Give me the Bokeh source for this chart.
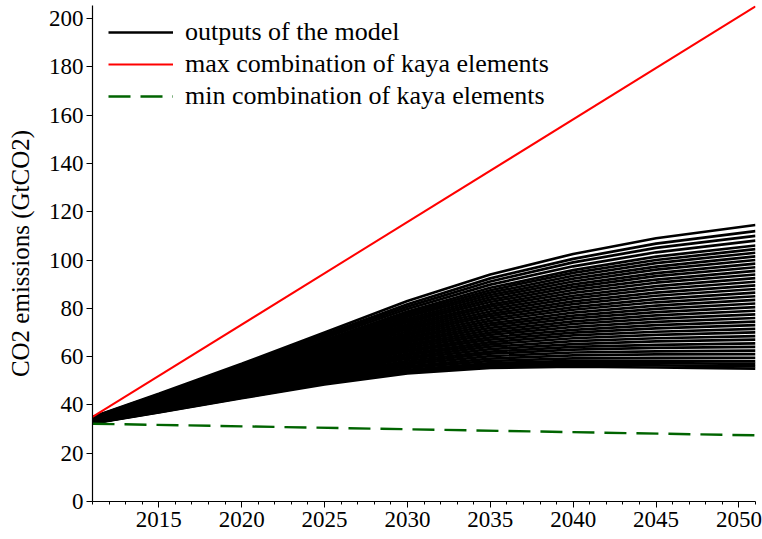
from bokeh.plotting import figure
from bokeh.models import ColumnDataSource, Legend, LegendItem, SingleIntervalTicker, Range1d
from bokeh.embed import file_html
from bokeh.resources import INLINE

# ---- data ----
years = [2011, 2015, 2020, 2025, 2030, 2035, 2040, 2045, 2051]

model_runs = [
    [32.3, 36.9, 42.8, 48.5, 53.0, 55.3, 55.8, 55.5, 55.0],
    [32.4, 37.0, 43.0, 48.9, 53.5, 56.0, 56.6, 56.4, 56.0],
    [32.4, 37.2, 43.3, 49.2, 54.0, 56.6, 57.4, 57.3, 57.0],
    [32.4, 37.3, 43.5, 49.6, 54.5, 57.3, 58.2, 58.2, 58.0],
    [32.5, 37.5, 43.9, 50.1, 55.3, 58.2, 59.3, 59.5, 59.5],
    [32.6, 37.7, 44.2, 50.7, 56.0, 59.2, 60.5, 60.9, 61.0],
    [32.6, 37.9, 44.6, 51.2, 56.8, 60.2, 61.7, 62.2, 62.5],
    [32.7, 38.1, 45.0, 51.8, 57.5, 61.2, 62.9, 63.6, 64.0],
    [32.8, 38.3, 45.3, 52.3, 58.3, 62.1, 64.0, 64.9, 65.5],
    [32.8, 38.5, 45.7, 52.8, 59.1, 63.1, 65.2, 66.3, 67.0],
    [32.9, 38.7, 46.0, 53.4, 59.8, 64.1, 66.4, 67.6, 68.5],
    [33.0, 38.8, 46.4, 53.9, 60.6, 65.1, 67.6, 69.0, 70.0],
    [33.1, 39.0, 46.7, 54.5, 61.3, 66.0, 68.8, 70.3, 71.5],
    [33.1, 39.2, 47.1, 55.0, 62.1, 67.0, 69.9, 71.7, 73.0],
    [33.2, 39.4, 47.5, 55.6, 62.8, 68.0, 71.1, 73.0, 74.5],
    [33.3, 39.6, 47.8, 56.1, 63.6, 69.0, 72.3, 74.4, 76.0],
    [33.3, 39.8, 48.2, 56.6, 64.4, 69.9, 73.5, 75.7, 77.5],
    [33.4, 40.0, 48.5, 57.2, 65.1, 70.9, 74.6, 77.1, 79.0],
    [33.5, 40.2, 48.9, 57.7, 65.9, 71.9, 75.8, 78.4, 80.5],
    [33.5, 40.4, 49.2, 58.3, 66.6, 72.9, 77.0, 79.8, 82.0],
    [33.6, 40.6, 49.6, 58.8, 67.4, 73.8, 78.2, 81.1, 83.5],
    [33.7, 40.8, 50.0, 59.3, 68.1, 74.8, 79.4, 82.5, 85.0],
    [33.7, 41.0, 50.3, 59.9, 68.9, 75.8, 80.5, 83.8, 86.5],
    [33.8, 41.2, 50.7, 60.4, 69.6, 76.8, 81.7, 85.2, 88.0],
    [33.9, 41.4, 51.0, 61.0, 70.4, 77.7, 82.9, 86.5, 89.5],
    [33.9, 41.6, 51.4, 61.5, 71.2, 78.7, 84.1, 87.9, 91.0],
    [34.0, 41.8, 51.8, 62.1, 71.9, 79.7, 85.2, 89.2, 92.5],
    [34.1, 42.0, 52.1, 62.6, 72.7, 80.7, 86.4, 90.6, 94.0],
    [34.1, 42.1, 52.5, 63.1, 73.4, 81.6, 87.6, 91.9, 95.5],
    [34.2, 42.3, 52.8, 63.7, 74.2, 82.6, 88.8, 93.3, 97.0],
    [34.3, 42.5, 53.2, 64.2, 74.9, 83.6, 89.9, 94.6, 98.5],
    [34.3, 42.7, 53.5, 64.8, 75.7, 84.6, 91.1, 96.0, 100.0],
    [34.4, 42.9, 53.9, 65.3, 76.5, 85.5, 92.3, 97.3, 101.5],
    [34.5, 43.1, 54.3, 65.8, 77.2, 86.5, 93.5, 98.7, 103.0],
    [34.6, 43.3, 54.6, 66.4, 78.0, 87.5, 94.7, 100.0, 104.5],
    [34.6, 43.5, 55.0, 66.9, 78.7, 88.5, 95.8, 101.4, 106.0],
    [34.7, 43.8, 55.5, 67.7, 79.7, 89.8, 97.4, 103.2, 108.0],
    [34.8, 44.0, 55.9, 68.4, 80.7, 91.1, 99.0, 105.0, 110.0],
    [34.9, 44.3, 56.4, 69.1, 81.7, 92.4, 100.5, 106.8, 112.0],
    [35.0, 44.6, 57.0, 70.0, 83.0, 94.0, 102.5, 109.0, 114.5],
]

kaya_years = [2011, 2051]
kaya_max = [35.0, 205.0]
kaya_min = [32.2, 27.4]

labels = ["outputs of the model",
          "max combination of kaya elements",
          "min combination of kaya elements"]
y_label = "CO2 emissions (GtCO2)"

FONT = "'Liberation Serif'"

p = figure(width=762, height=539, output_backend="svg", toolbar_location=None,
           x_range=Range1d(2011, 2051), y_range=Range1d(0, 205.4),
           min_border_left=92, min_border_right=7, min_border_top=5,
           min_border_bottom=38)
p.outline_line_color = None
p.xgrid.visible = False
p.ygrid.visible = False
p.background_fill_color = "white"

src = ColumnDataSource(dict(xs=[years] * len(model_runs), ys=model_runs))
r_model = p.multi_line("xs", "ys", source=src, line_color="black", line_width=2.7)
r_max = p.line(kaya_years, kaya_max, line_color="#ff0000", line_width=2)
r_min = p.line(kaya_years, kaya_min, line_color="#006400", line_width=2.4,
               line_dash="22 10")

p.xaxis.ticker = SingleIntervalTicker(interval=5, num_minor_ticks=5)
p.yaxis.ticker = SingleIntervalTicker(interval=20, num_minor_ticks=0)
for ax in (p.xaxis[0], p.yaxis[0]):
    ax.axis_line_color = "black"
    ax.axis_line_width = 1.2
    ax.major_tick_line_color = "black"
    ax.minor_tick_line_color = "black"
    ax.major_tick_in = 0
    ax.minor_tick_in = 0
    ax.major_tick_out = 6
    ax.minor_tick_out = 3
    ax.major_label_text_font = FONT
    ax.major_label_text_font_size = "23px"
    ax.major_label_text_color = "black"
p.xaxis.major_label_standoff = 4
p.yaxis.major_label_standoff = 3
p.yaxis.axis_label = y_label
p.yaxis.axis_label_text_font = FONT
p.yaxis.axis_label_text_font_size = "25px"
p.yaxis.axis_label_text_font_style = "normal"
p.yaxis.axis_label_text_color = "black"
p.yaxis.axis_label_standoff = 12

legend = Legend(items=[LegendItem(label=labels[0], renderers=[r_model]),
                       LegendItem(label=labels[1], renderers=[r_max]),
                       LegendItem(label=labels[2], renderers=[r_min])],
                location=(16, 389))
legend.margin = 0
legend.padding = 0
legend.spacing = 0
legend.glyph_width = 65
legend.glyph_height = 32
legend.label_height = 32
legend.label_standoff = 12
legend.label_text_font = FONT
legend.label_text_font_size = "26px"
legend.label_text_color = "black"
legend.background_fill_alpha = 0
legend.border_line_alpha = 0
p.add_layout(legend)

open("out.html", "w").write(file_html(p, INLINE))
